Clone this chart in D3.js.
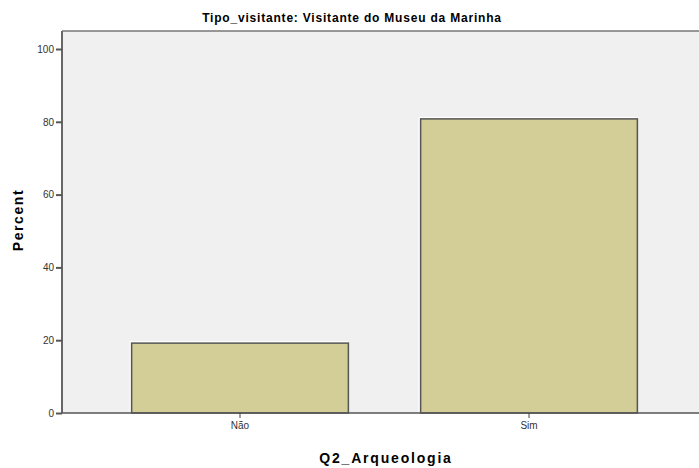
<!DOCTYPE html>
<meta charset="utf-8">
<style>
    body { margin: 0; background: #fff; }
    text { font-family: "Liberation Sans", Arial, sans-serif; }
    .tick text { font-size: 10px; fill: #333; }
</style>
<body>
<script src="https://cdn.jsdelivr.net/npm/d3@7"></script>
<script>
    var categories = ["Não", "Sim"]
    var percent = [19.2, 80.8]
    var yTicks = [0, 20, 40, 60, 80, 100]

    var width = 699, height = 468
    var svg = d3.select("body").append("svg")
        .attr("width", width)
        .attr("height", height)

    var x = d3.scaleBand()
        .domain(categories)
        .range([95.5, 673.5])
        .paddingInner(0.25)
        .paddingOuter(0.125)

    var y = d3.scaleLinear()
        .domain([0, 100])
        .range([413, 49])

    // plot background
    svg.append("rect")
        .attr("x", 63).attr("y", 31)
        .attr("width", width - 63).attr("height", 382)
        .attr("fill", "#f0f0f0")
    svg.append("line")
        .attr("x1", 62).attr("x2", width)
        .attr("y1", 31).attr("y2", 31)
        .attr("stroke", "#777").attr("stroke-width", 1.5)

    // bars (white edge then filled bar)
    svg.selectAll("rect.edge")
        .data(categories)
        .enter().append("rect")
        .attr("class", "edge")
        .attr("x", d => x(d) - 2)
        .attr("y", (d, i) => y(percent[i]) - 2)
        .attr("width", x.bandwidth() + 2)
        .attr("height", (d, i) => y(0) - y(percent[i]) + 2)
        .attr("fill", "#fff")

    svg.selectAll("rect.bar")
        .data(categories)
        .enter().append("rect")
        .attr("class", "bar")
        .attr("x", d => x(d))
        .attr("y", (d, i) => y(percent[i]))
        .attr("width", x.bandwidth())
        .attr("height", (d, i) => y(0) - y(percent[i]))
        .attr("fill", "#d3ce97")
        .attr("stroke", "#555")
        .attr("stroke-width", 1.5)

    // axes
    var yAxis = svg.append("g")
        .attr("transform", "translate(62,0)")
        .call(d3.axisLeft(y).tickValues(yTicks).tickSize(6).tickPadding(2))
    yAxis.select(".domain").attr("stroke", "#666").attr("stroke-width", 2)
        .attr("d", "M0,31V413")
    yAxis.selectAll(".tick line").attr("stroke", "#555").attr("stroke-width", 2)

    var xAxis = svg.append("g")
        .attr("transform", "translate(0,413)")
        .call(d3.axisBottom(x).tickSize(5).tickPadding(4))
    xAxis.select(".domain").attr("stroke", "#555").attr("stroke-width", 1.5)
        .attr("d", "M62,0H" + width)
    xAxis.selectAll(".tick line").attr("stroke", "#444")

    // labels
    svg.append("text")
        .attr("x", 352).attr("y", 22)
        .attr("text-anchor", "middle")
        .attr("font-size", 12).attr("font-weight", "bold")
        .attr("letter-spacing", 0.8)
        .text("Tipo_visitante: Visitante do Museu da Marinha")

    svg.append("text")
        .attr("x", 386).attr("y", 463)
        .attr("text-anchor", "middle")
        .attr("font-size", 14).attr("font-weight", "bold")
        .attr("letter-spacing", 1.8)
        .text("Q2_Arqueologia")

    svg.append("text")
        .attr("transform", "translate(23,220) rotate(-90)")
        .attr("text-anchor", "middle")
        .attr("font-size", 14).attr("font-weight", "bold")
        .attr("letter-spacing", 1.6)
        .text("Percent")
</script>
</body>
